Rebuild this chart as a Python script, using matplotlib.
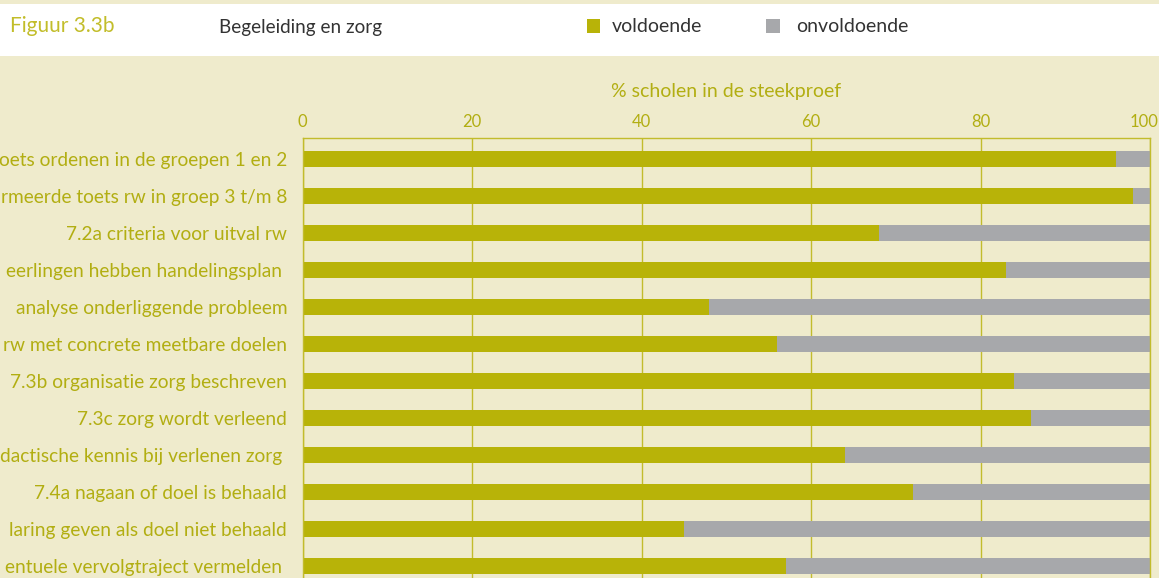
import matplotlib
matplotlib.use("Agg")
import numpy as np
from matplotlib import pyplot as plt
from matplotlib.patches import Rectangle
from matplotlib.transforms import ScaledTranslation

# category labels, as far as they are visible (the left part is cut off in the source)
labels = [
    "oets ordenen in de groepen 1 en 2",
    "rmeerde toets rw in groep 3 t/m 8",
    "7.2a criteria voor uitval rw",
    "eerlingen hebben handelingsplan ",
    "analyse onderliggende probleem",
    "rw met concrete meetbare doelen",
    "7.3b organisatie zorg beschreven",
    "7.3c zorg wordt verleend",
    "dactische kennis bij verlenen zorg ",
    "7.4a nagaan of doel is behaald",
    "laring geven als doel niet behaald",
    "entuele vervolgtraject vermelden ",
]
voldoende = [96, 98, 68, 83, 48, 56, 84, 86, 64, 72, 45, 57]
onvoldoende = [100 - v for v in voldoende]
xticks = [0, 20, 40, 60, 80, 100]

# colours
bg = "#efebcc"
olive = "#b8b308"
grey = "#a7a8ab"
textcol = "#b2ae12"
gridcol = "#c2bc2c"

W, H = 1159, 578
plt.rcParams['font.family'] = ['Lato', 'DejaVu Sans']

fig = plt.figure(figsize=(W / 100, H / 100), dpi=100, facecolor=bg)

# white header band with title and legend
fig.patches.append(Rectangle((0, 1 - 56 / H), 1, 52 / H, transform=fig.transFigure,
                             facecolor="white", edgecolor="none", zorder=0))
fig.text(10 / W, 1 - 26 / H, "Figuur 3.3b", color="#c2bd2a", fontsize=15,
         va="center", ha="left")
fig.text(219 / W, 1 - 27 / H, "Begeleiding en zorg", color="#333333", fontsize=13.6,
         va="center", ha="left")
fig.patches.append(Rectangle((587 / W, 1 - 33 / H), 13 / W, 14 / H, transform=fig.transFigure,
                             facecolor=olive, edgecolor="none"))
fig.text(612 / W, 1 - 27 / H, "voldoende", color="#333333", fontsize=14,
         va="center", ha="left")
fig.patches.append(Rectangle((766 / W, 1 - 33 / H), 14 / W, 14 / H, transform=fig.transFigure,
                             facecolor=grey, edgecolor="none"))
fig.text(796 / W, 1 - 27 / H, "onvoldoende", color="#333333", fontsize=14,
         va="center", ha="left")

# axes: top at y=138px, rows every 37px, bottom runs off the figure
left, right, top = 302.5, 1150, 138
n = len(labels)
pad = 21 / 37
ax_h = (n - 1) * 37 + 42
ax = fig.add_axes([left / W, 1 - (top + ax_h) / H, (right - left) / W, ax_h / H])
ax.set_facecolor(bg)

y = np.arange(n)
ax.barh(y, voldoende, height=0.41, color=olive, zorder=2)
ax.barh(y, onvoldoende, left=voldoende, height=0.41, color=grey, zorder=2)

ax.set_xlim(0, 100)
ax.set_ylim(n - 1 + pad, -pad)
ax.set_yticks(y)
ax.set_yticklabels(labels, color=textcol, fontsize=13.8)
ax.xaxis.tick_top()
ax.xaxis.set_label_position('top')
ax.set_xticks(xticks)
ax.set_xticklabels([str(t) for t in xticks], color=textcol, fontsize=12)
ax.set_xlabel("% scholen in de steekproef", color=textcol, fontsize=14, labelpad=12)
ax.tick_params(axis='both', length=0)
ax.tick_params(axis='y', pad=11)
ax.tick_params(axis='x', pad=6)

# keep "100" inside the picture
last = ax.get_xticklabels()[-1]
last.set_horizontalalignment('right')
last.set_transform(last.get_transform() + ScaledTranslation(8 / 100, 0, fig.dpi_scale_trans))

ax.grid(axis='x', color=gridcol, linewidth=1, zorder=1)
ax.set_axisbelow(True)
for s in ['top', 'left', 'right']:
    ax.spines[s].set_color(gridcol)
    ax.spines[s].set_linewidth(1)
ax.spines['bottom'].set_visible(False)

fig.savefig("out.png", dpi=100, facecolor=bg)
